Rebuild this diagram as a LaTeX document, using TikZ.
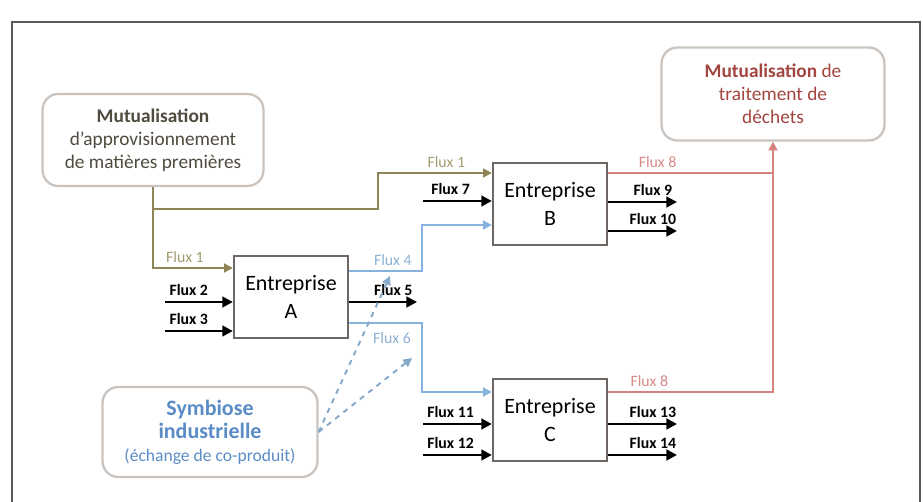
\documentclass[tikz,border=0pt]{standalone}
\usepackage{fontspec}
\setmainfont{Carlito}
\usepackage{xcolor}
\usepackage{tikz}
\usetikzlibrary{arrows.meta}

\definecolor{olivebr}{HTML}{8F8455}
\definecolor{olivetxt}{HTML}{A39C72}
\definecolor{flowblue}{HTML}{86B2DE}
\definecolor{bluetxt}{HTML}{8DB1D6}
\definecolor{symbblue}{HTML}{5A8CC6}
\definecolor{flowred}{HTML}{D4837E}
\definecolor{redtxt}{HTML}{D88A85}
\definecolor{darkred}{HTML}{A2463F}
\definecolor{boxgray}{HTML}{CBC4BE}
\definecolor{entgray}{HTML}{6E6663}
\definecolor{apptxt}{HTML}{4F4B3E}

\begin{document}
\begin{tikzpicture}[
    x=0.02cm, y=-0.02cm,
    font=\fontsize{11}{13}\selectfont,
    entbox/.style={
      draw=entgray,
      line width=1.3pt,
      fill=white,
      align=center,
      minimum width=2.28cm,
      minimum height=1.64cm,
      font=\fontsize{12.5}{16}\selectfont
    },
    roundbox/.style={
      draw=boxgray,
      line width=1.3pt,
      rounded corners=9pt,
      align=center,
      fill=white
    },
    flux/.style={line width=1.7pt, -{Triangle[length=6pt,width=6pt]}},
    fluxlab/.style={above=1.5pt, inner sep=1pt, font=\fontsize{9}{10}\selectfont\bfseries},
    collab/.style={above=1.5pt, inner sep=1pt, font=\fontsize{9}{10}\selectfont},
    oliveline/.style={olivebr, line width=1.6pt},
    blueline/.style={flowblue, line width=1.6pt},
    redline/.style={flowred, line width=1.6pt},
    tiny tip/.style={-{Triangle[length=5pt,width=5pt]}}
]
\useasboundingbox (0,0) rectangle (923,502);
\draw[gray!70!black, line width=0.9pt] (12,502) -- (12,22) -- (920,22) -- (920,502);

% the three firms
\node[entbox] (A) at (291,297) {Entreprise\\A};
\node[entbox] (B) at (550,204) {Entreprise\\B};
\node[entbox] (C) at (550,420) {Entreprise\\C};

% shared boxes
\node[roundbox, text=apptxt, minimum width=4.42cm, minimum height=1.84cm] (appro) at (153,140)
  {\textbf{Mutualisation}\\d'approvisionnement\\de matières premières};
\node[roundbox, text=darkred, minimum width=4.46cm, minimum height=1.86cm] (dechets) at (773,94)
  {\textbf{Mutualisation} de\\traitement de\\déchets};
\node[roundbox, text=symbblue, minimum width=4.3cm, minimum height=1.8cm] (symb) at (210,432)
  {\fontsize{12.5}{14}\selectfont\textbf{Symbiose}\\\fontsize{12.5}{14}\selectfont\textbf{industrielle}\\\fontsize{10}{13}\selectfont(échange de co-produit)};

% line levels
\coordinate (a1) at (0,268);
\coordinate (s2) at (165,302);
\coordinate (s3) at (165,331);
\coordinate (a4) at (0,271);
\coordinate (a6) at (0,323);
\coordinate (e5) at (417,302);
\coordinate (split) at (153,209);
\coordinate (bend1) at (378,209);
\coordinate (b1) at (0,173);
\coordinate (s7) at (423,201);
\coordinate (b4) at (0,225);
\coordinate (v4) at (422,0);
\coordinate (e9) at (677,202);
\coordinate (e10) at (677,231);
\coordinate (c6) at (0,392);
\coordinate (s11) at (423,424);
\coordinate (s12) at (423,455);
\coordinate (e13) at (677,424);
\coordinate (e14) at (677,455);
\coordinate (d4) at (390,276);
\coordinate (d6) at (412,358);

% supply flows
\draw[oliveline, tiny tip] (appro.south) |- node[collab, text=olivetxt, pos=0.7]{Flux 1} (A.west |- a1);
\draw[oliveline, tiny tip] (split) -- (bend1) |- node[collab, text=olivetxt, pos=0.8]{Flux 1} (B.west |- b1);

% inputs and outputs of A
\draw[flux] (s2) -- node[fluxlab, pos=0.35]{Flux 2} (A.west |- s2);
\draw[flux] (s3) -- node[fluxlab, pos=0.35]{Flux 3} (A.west |- s3);
\draw[flux] (A.east |- e5) -- node[fluxlab, pos=0.65]{Flux 5} (e5);
\draw[blueline, tiny tip] (A.east |- a4) -- node[collab, text=bluetxt, pos=0.6]{Flux 4} (v4 |- a4) |- (B.west |- b4);
\draw[blueline, tiny tip] (A.east |- a6) -- (v4 |- a6) |- (C.west |- c6);
\node[collab, text=bluetxt, below=3pt] (f6) at (392,328) {Flux 6};

% B
\draw[flux] (s7) -- node[fluxlab, pos=0.4]{Flux 7} (B.west |- s7);
\draw[flux] (B.east |- e9) -- node[fluxlab, pos=0.65]{Flux 9} (e9);
\draw[flux] (B.east |- e10) -- node[fluxlab, pos=0.65]{Flux 10} (e10);
\draw[redline] (B.east |- b1) -- node[collab, text=redtxt, pos=0.3]{Flux 8} (dechets.south |- b1);

% C
\draw[flux] (s11) -- node[fluxlab, pos=0.4]{Flux 11} (C.west |- s11);
\draw[flux] (s12) -- node[fluxlab, pos=0.4]{Flux 12} (C.west |- s12);
\draw[flux] (C.east |- e13) -- node[fluxlab, pos=0.65]{Flux 13} (e13);
\draw[flux] (C.east |- e14) -- node[fluxlab, pos=0.65]{Flux 14} (e14);
\draw[redline, tiny tip] (C.east |- c6) -- node[collab, text=redtxt, pos=0.25]{Flux 8} (dechets.south |- c6) -- (dechets.south);

% co-product exchange
\draw[flowblue!80!gray, line width=1.1pt, dashed, tiny tip] (symb.east) -- (d4);
\draw[flowblue!80!gray, line width=1.1pt, dashed, tiny tip] (symb.east) -- (d6);
\end{tikzpicture}
\end{document}
